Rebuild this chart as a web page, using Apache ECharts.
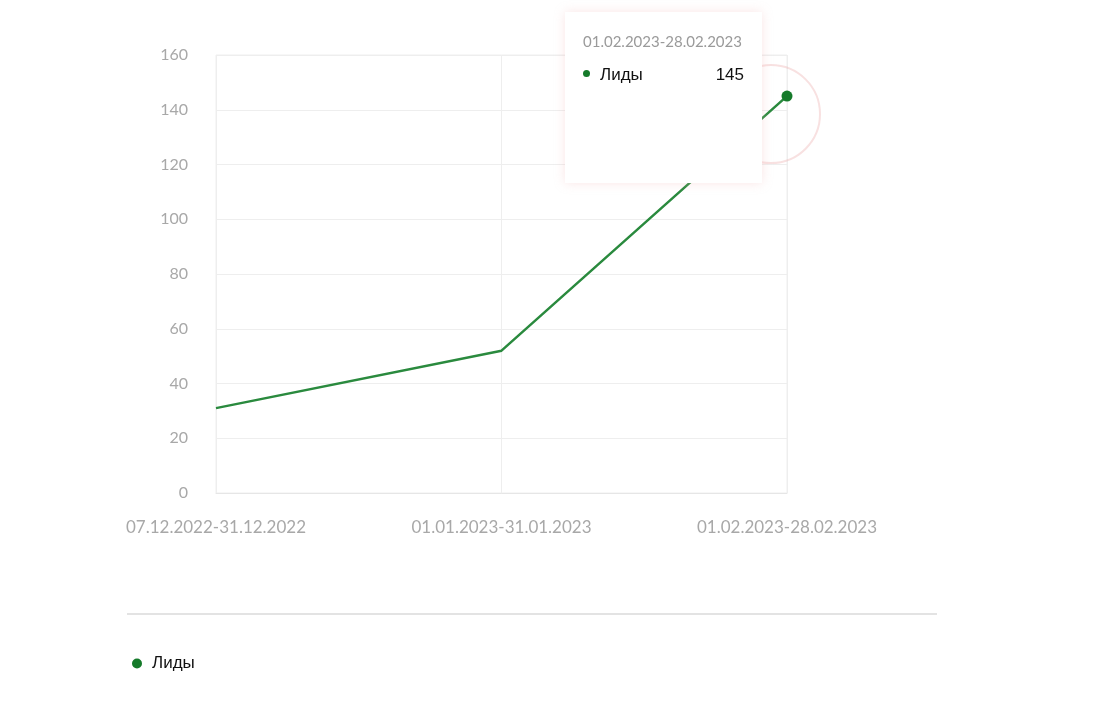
<!DOCTYPE html>
<html><head><meta charset="utf-8">
<script src="https://cdn.jsdelivr.net/npm/echarts@6/dist/echarts.min.js"></script>
<style>html,body{margin:0;padding:0;background:#fff}#c{width:1120px;height:709px}</style>
</head><body><div id="c"></div>
<script>
const categories = ['07.12.2022-31.12.2022', '01.01.2023-31.01.2023', '01.02.2023-28.02.2023'];
const leads = [31, 52, 145];
const seriesName = 'Лиды';

const chart = echarts.init(document.getElementById('c'), null, {renderer: 'canvas'});
const option = {
  animation: false,
  backgroundColor: '#fff',
  grid: {left: 216, right: 333, top: 55, bottom: 216, show: true, borderColor: '#eeeeee', borderWidth: 1},
  xAxis: {
    type: 'category', data: categories, boundaryGap: false,
    axisLine: {lineStyle: {color: '#e6e6e6'}}, axisTick: {show: false},
    axisLabel: {color: '#a8a8a8', fontFamily: 'Lato', fontSize: 17, margin: 26},
    splitLine: {show: true, lineStyle: {color: '#eeeeee'}}
  },
  yAxis: {
    type: 'value', min: 0, max: 160, interval: 20,
    axisLine: {show: false}, axisTick: {show: false},
    axisLabel: {color: '#a8a8a8', fontFamily: 'Lato', fontSize: 16, margin: 28, padding: [0,0,3,0]},
    splitLine: {lineStyle: {color: '#eeeeee'}}
  },
  legend: {
    left: 127, top: 650, icon: 'circle', itemWidth: 10, itemHeight: 10, itemGap: 10,
    itemStyle: {color: '#157a2a', opacity: 1},
    textStyle: {color: '#111', fontFamily: 'Liberation Sans', fontSize: 17, padding: [0,0,0,5]},
    data: [seriesName]
  },
  tooltip: {
    trigger: 'axis', alwaysShowContent: true, triggerOn: 'none',
    position: [565, 12],
    backgroundColor: '#fff', borderWidth: 0, padding: 0,
    axisPointer: {type: 'none'},
    extraCssText: 'width:197px;height:171px;box-shadow:0 0 10px rgba(240,180,180,0.35);border-radius:0;',
    formatter: function (p) {
      const a = p[0];
      return '<div style="padding:19px 18px;">' +
        '<div style="color:#9a9a9a;font-size:15px;font-family:Lato,sans-serif;margin-bottom:12px">' + a.axisValue + '</div>' +
        '<div style="display:flex;justify-content:space-between;align-items:center;font-size:17px;color:#111;font-family:Liberation Sans,Arial,sans-serif">' +
        '<span><span style="display:inline-block;width:7px;height:7px;border-radius:50%;background:#157a2a;margin-right:10px;vertical-align:middle;position:relative;top:-2px"></span>' + a.seriesName + '</span>' +
        '<span>' + a.value + '</span></div></div>';
    }
  },
  series: [{
    name: seriesName, type: 'line',
    data: leads.map((v, i) => i === leads.length - 1 ? {value: v, itemStyle: {opacity: 1}} : v),
    color: '#157a2a',
    lineStyle: {color: '#2a8a3e', width: 2.5},
    symbol: 'circle', symbolSize: 10, showSymbol: true,
    itemStyle: {color: '#157a2a', opacity: 0},
    emphasis: {disabled: true}
  }]
};
chart.setOption(option);
const p = chart.convertToPixel({seriesIndex: 0}, [leads.length - 1, leads[leads.length - 1]]);
chart.setOption({graphic: [
  {type: 'circle', shape: {cx: p[0] - 16, cy: p[1] + 18, r: 49}, style: {fill: 'rgba(0,0,0,0)', stroke: 'rgba(235,170,170,0.35)', lineWidth: 2}, z: 1},
  {type: 'line', shape: {x1: 127, y1: 614, x2: 937, y2: 614}, style: {stroke: '#e3e3e3', lineWidth: 2}}
]});
chart.dispatchAction({type: 'showTip', seriesIndex: 0, dataIndex: leads.length - 1});
</script></body></html>
